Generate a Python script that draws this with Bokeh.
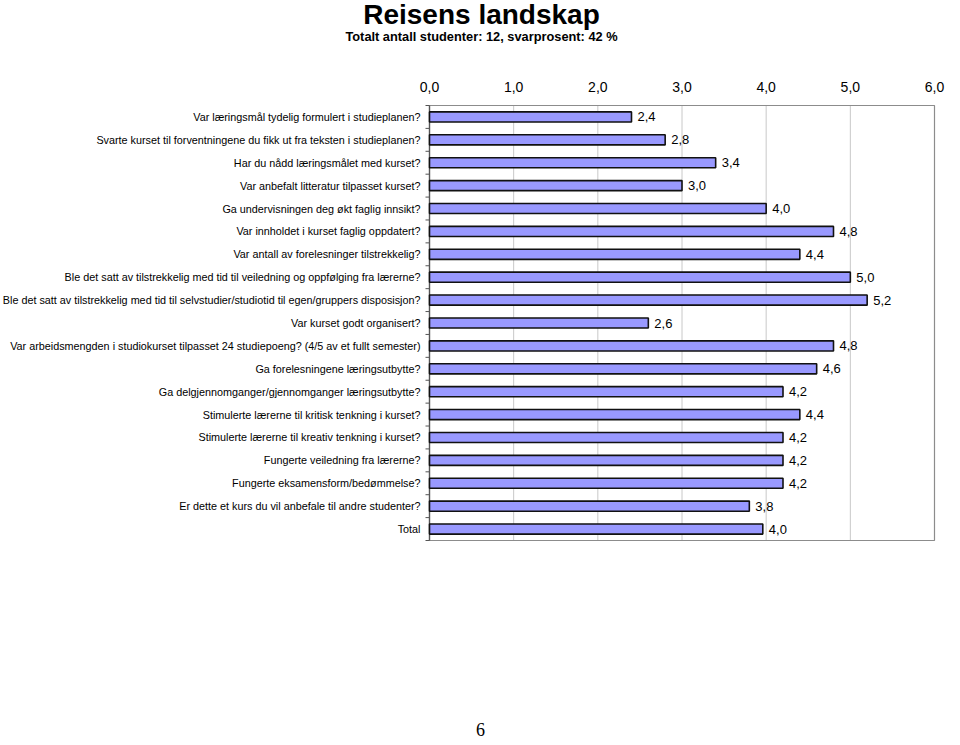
import numpy as np
from bokeh.plotting import figure
from bokeh.models import ColumnDataSource, Range1d, Label
from bokeh.core.properties import value
from bokeh.embed import file_html
from bokeh.resources import INLINE

title_text = "Reisens landskap"
subtitle_text = "Totalt antall studenter: 12, svarprosent: 42 %"
page_number = "6"

questions = [
    "Var læringsmål tydelig formulert i studieplanen?",
    "Svarte kurset til forventningene du fikk ut fra teksten i studieplanen?",
    "Har du nådd læringsmålet med kurset?",
    "Var anbefalt litteratur tilpasset kurset?",
    "Ga undervisningen deg økt faglig innsikt?",
    "Var innholdet i kurset faglig oppdatert?",
    "Var antall av forelesninger tilstrekkelig?",
    "Ble det satt av tilstrekkelig med tid til veiledning og oppfølging fra lærerne?",
    "Ble det satt av tilstrekkelig med tid til selvstudier/studiotid til egen/gruppers disposisjon?",
    "Var kurset godt organisert?",
    "Var arbeidsmengden i studiokurset tilpasset 24 studiepoeng? (4/5 av et fullt semester)",
    "Ga forelesningene læringsutbytte?",
    "Ga delgjennomganger/gjennomganger læringsutbytte?",
    "Stimulerte lærerne til kritisk tenkning i kurset?",
    "Stimulerte lærerne til kreativ tenkning i kurset?",
    "Fungerte veiledning fra lærerne?",
    "Fungerte eksamensform/bedømmelse?",
    "Er dette et kurs du vil anbefale til andre studenter?",
    "Total",
]
scores = [2.4, 2.8, 3.4, 3.0, 4.0, 4.8, 4.4, 5.0, 5.2, 2.6,
          4.8, 4.6, 4.2, 4.4, 4.2, 4.2, 4.2, 3.8, 3.96]
x_ticks = [0, 1, 2, 3, 4, 5, 6]

n = len(questions)
pos = list(range(n))
val_labels = [f"{v:.1f}".replace(".", ",") for v in scores]
tick_labels = [f"{t:.1f}".replace(".", ",") for t in x_ticks]

FONT = "Liberation Sans"

# ---- layout (pixels on the page) ----
W, H = 960, 744
PL, PR, PT, PB = 429, 934, 105, 540     # plot area box
XMIN, XMAX = x_ticks[0], x_ticks[-1]
ppx = (PR - PL) / (XMAX - XMIN)          # px per x unit
ppy = (PB - PT) / n                      # px per category row


def px_to_x(px):
    return XMIN + (px - PL) / ppx


def px_to_y(py):
    return -0.5 + (py - PT) / ppy


p = figure(width=W, height=H, min_border=0,
           x_range=Range1d(px_to_x(0), px_to_x(W)),
           y_range=Range1d(px_to_y(H), px_to_y(0)),
           x_axis_location=None, y_axis_location=None,
           output_backend="svg", toolbar_location=None,
           background_fill_color="white", border_fill_color="white")
p.outline_line_color = None
p.grid.visible = False

y_top, y_bot = -0.5, n - 0.5

# vertical gridlines at the x ticks
p.segment(x0=x_ticks, y0=[y_top] * len(x_ticks), x1=x_ticks,
          y1=[y_bot] * len(x_ticks), line_color="#c8c8c8", line_width=1)
# plot area frame
p.quad(left=[XMIN], right=[XMAX], top=[y_top], bottom=[y_bot],
       fill_color=None, line_color="#8c8c8c", line_width=1.2)
# value axis line on the left with category boundary ticks
p.segment(x0=[XMIN], y0=[y_top], x1=[XMIN], y1=[y_bot],
          line_color="#555555", line_width=1.3)
bounds = [i - 0.5 for i in range(n + 1)]
p.ray(x=[XMIN] * len(bounds), y=bounds, length=4, length_units="screen",
      angle=np.pi, line_color="#555555", line_width=1)

# bars
src = ColumnDataSource(dict(y=pos, v=scores, lab=val_labels, q=questions))
p.hbar(y="y", right="v", left=0, height=0.44, source=src,
       fill_color="#9999FF", line_color="#111111", line_width=1.6)
p.text(x="v", y="y", text="lab", source=src, x_offset=6,
       text_align="left", text_baseline="middle",
       text_font=value(FONT), text_font_size="13px", text_color="black")

# category labels
p.text(x=XMIN, y="y", text="q", source=src, x_offset=-9,
       text_align="right", text_baseline="middle",
       text_font=value(FONT), text_font_size="10.8px", text_color="black")

# top tick labels
tsrc = ColumnDataSource(dict(x=x_ticks, y=[px_to_y(86)] * len(x_ticks),
                             t=tick_labels))
p.text(x="x", y="y", text="t", source=tsrc, text_align="center",
       text_baseline="middle", text_font=value(FONT),
       text_font_size="14px", text_color="black")

# title, subtitle, page number (centres given in page pixels)
p.add_layout(Label(x=px_to_x(481), y=px_to_y(13.5), text=title_text,
                   text_font=FONT, text_font_size="28px",
                   text_font_style="bold", text_color="black",
                   text_align="center", text_baseline="middle"))
p.add_layout(Label(x=px_to_x(481), y=px_to_y(35.5), text=subtitle_text,
                   text_font=FONT, text_font_size="12.8px",
                   text_font_style="bold", text_color="black",
                   text_align="center", text_baseline="middle"))
p.add_layout(Label(x=px_to_x(480), y=px_to_y(729), text=page_number,
                   text_font="Liberation Serif", text_font_size="18px",
                   text_color="black", text_align="center",
                   text_baseline="middle"))

open("out.html", "w").write(file_html(p, INLINE))
